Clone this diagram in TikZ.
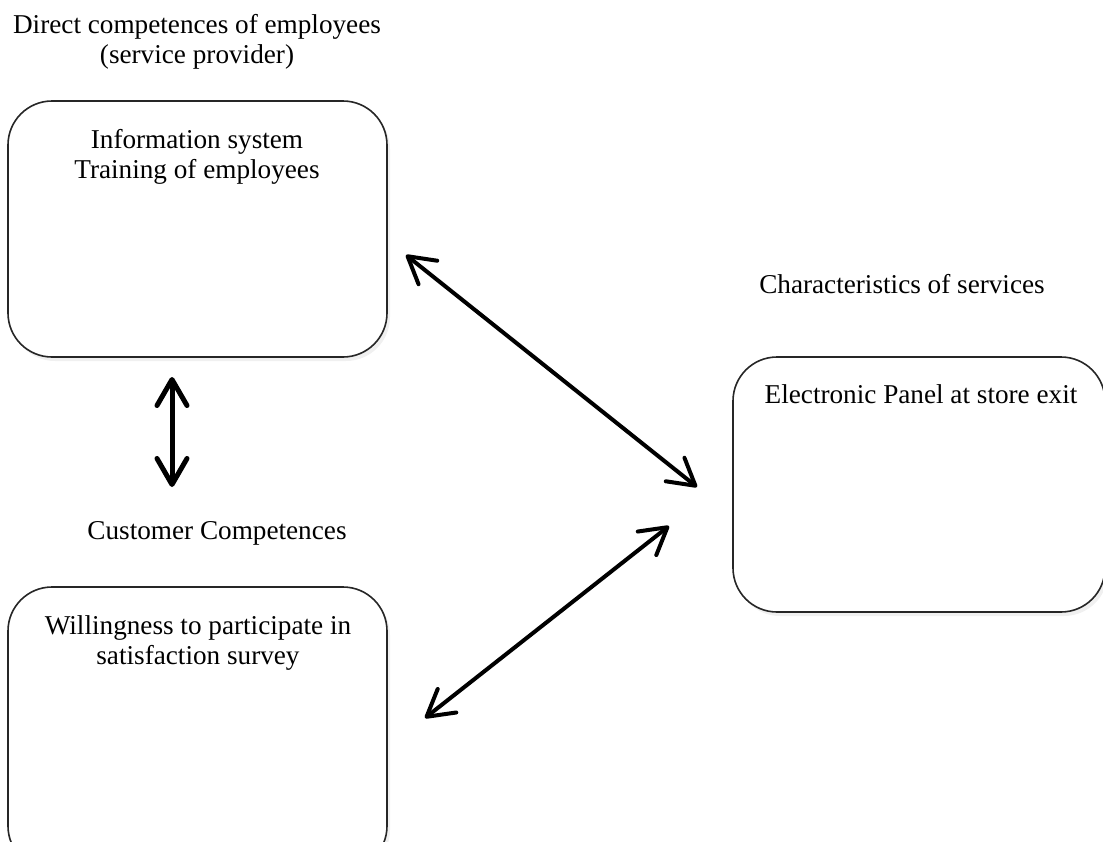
\documentclass[tikz,border=0pt]{standalone}
\usepackage{fontspec}
\setmainfont{Liberation Serif}
\usetikzlibrary{arrows.meta,fit,shadows}
\begin{document}
\begin{tikzpicture}[x=0.5pt,y=-0.5pt,
  box/.style={draw=black!85,line width=0.8pt,rounded corners=22pt,fill=white,inner sep=0pt,
    drop shadow={opacity=0.12,shadow xshift=1.5pt,shadow yshift=-2pt}},
  lbl/.style={font=\fontsize{13.6}{15}\selectfont,align=center,inner sep=0pt},
  btxt/.style={font=\fontsize{13.6}{15}\selectfont,align=center,inner sep=0pt,anchor=north},
  dbl/.style={line width=2pt,{Straight Barb[length=13pt,width=15pt,line cap=round,line join=round]}-{Straight Barb[length=13pt,width=15pt,line cap=round,line join=round]}}]
\useasboundingbox (0,0) rectangle (1103,841);
% boxes
\node[box,fit={(8,101) (387,357)}] (b1) {};
\node[box,fit={(733,357) (1105,612)}] (b2) {};
\node[box,fit={(8,587) (387,870)}] (b3) {};
% headings
\node[lbl] (h1) at (197,42) {Direct competences of employees\\(service provider)};
\node[lbl] (h2) at (902,284) {Characteristics of services};
\node[lbl] (h3) at (217,533) {Customer Competences};
% box texts
\node[btxt] (t1) at (197,129) {Information system\\Training of employees};
\node[btxt] (t2) at (921,384) {Electronic Panel at store exit};
\node[btxt] (t3) at (198,615) {Willingness to participate in\\satisfaction survey};
% arrow end points
\coordinate (a1s) at (406,255);
\coordinate (a1e) at (697,487);
\coordinate (a2s) at (172,377);
\coordinate (a2e) at (172,487);
\coordinate (a3s) at (425,718);
\coordinate (a3e) at (669,526);
\draw[dbl] (a1s) -- (a1e);
\draw[dbl,line width=2.5pt] (a2s) -- (a2e);
\draw[dbl] (a3s) -- (a3e);
\end{tikzpicture}
\end{document}
